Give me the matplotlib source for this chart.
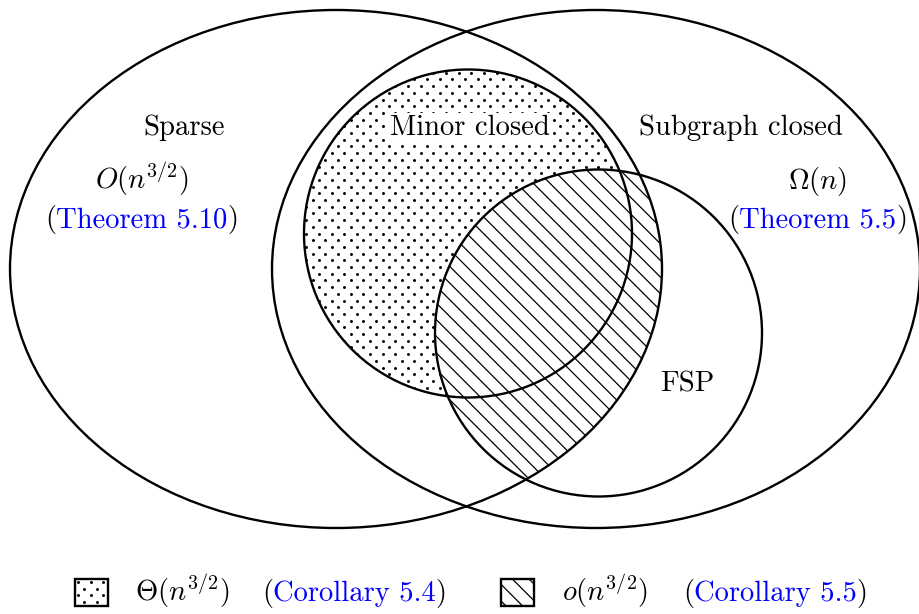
import numpy as np
import matplotlib
matplotlib.use("Agg")
import matplotlib.pyplot as plt
from matplotlib.patches import Ellipse, Circle, Rectangle

plt.rcParams['font.family'] = 'cmr10'
plt.rcParams['mathtext.fontset'] = 'cm'
plt.rcParams['axes.unicode_minus'] = False
plt.rcParams['hatch.linewidth'] = 0.9

# sets: (label, centre x, centre y, width, height) in pixel units
set_names = ["Sparse", "Subgraph closed", "Minor closed", "FSP"]
set_cx = [336, 596, 468, 598.5]
set_cy = [269, 269, 233.5, 333]
set_w = [652, 648, 328, 327]
set_h = [518, 518, 328, 327]

# labels: (pieces, x centre, baseline)
BLUE = '#0000ff'
labels = [
    ([("Sparse", 'k')], 184, 135),
    ([("$O(n^{3/2})$", 'k')], 142, 189),
    ([("(", 'k'), ("Theorem 5.10", BLUE), (")", 'k')], 142, 227),
    ([("Subgraph closed", 'k')], 741, 135),
    ([("$\\Omega(n)$", 'k')], 818, 189),
    ([("(", 'k'), ("Theorem 5.5", BLUE), (")", 'k')], 818, 227),
    ([("FSP", 'k')], 687, 392),
]
legend_math = ["$\\Theta(n^{3/2})$", "$o(n^{3/2})$"]
legend_ref = ["Corollary 5.4", "Corollary 5.5"]
legend_box_x = [75, 501]
legend_math_x = [135, 562]
legend_ref_x = [262, 683]

FS = 20.6
LW = 1.7

fig = plt.figure(figsize=(9.19, 6.14), dpi=100)
ax = fig.add_axes([0, 0, 1, 1])
ax.set_xlim(0, 919)
ax.set_ylim(614, 0)
ax.axis('off')
renderer = fig.canvas.get_renderer()


def shape(i, **kw):
    return Ellipse((set_cx[i], set_cy[i]), set_w[i], set_h[i], **kw)


def dots(clip, x0, x1, y0, y1):
    gx, gy = [], []
    for j, yy in enumerate(np.arange(y0, y1, 6.7)):
        xs = np.arange(x0 + (j % 2) * 6.35, x1, 12.7)
        gx.extend(xs)
        gy.extend([yy] * len(xs))
    sc = ax.scatter(gx, gy, s=4.5, c='k', marker='o', linewidths=0, zorder=2)
    sc.set_clip_path(clip)


# dotted region: minor closed
minor_clip = shape(2, transform=ax.transData)
dots(minor_clip, 300, 640, 66, 402)

# hatched region: FSP inside Sparse
sparse_clip = shape(0, transform=ax.transData)
hatched = shape(3, facecolor='white', edgecolor='k', hatch='\\\\', linewidth=0, zorder=3)
ax.add_patch(hatched)
hatched.set_clip_path(sparse_clip)

# outlines
for i in range(4):
    ax.add_patch(shape(i, fill=False, edgecolor='k', linewidth=LW, zorder=5))

ax.text(470, 135, "Minor closed", fontsize=FS, ha='center', va='baseline', zorder=4,
        bbox=dict(facecolor='white', edgecolor='none', pad=1.5))


def put(pieces, x, y, align='center'):
    ts = [ax.text(0, y, s, color=c, fontsize=FS, ha='left', va='baseline', zorder=6)
          for s, c in pieces]
    ws = [t.get_window_extent(renderer).width for t in ts]
    cur = x - sum(ws) / 2 if align == 'center' else x
    for t, w in zip(ts, ws):
        t.set_x(cur)
        cur += w


for pieces, x, y in labels:
    put(pieces, x, y)

# legend
for k in range(2):
    box = Rectangle((legend_box_x[k], 579), 33, 27, facecolor='white', edgecolor='k',
                    linewidth=LW, zorder=5, hatch='\\\\' if k == 1 else None)
    ax.add_patch(box)
    if k == 0:
        dots(box, legend_box_x[k] + 3, legend_box_x[k] + 33, 582, 606)
        box.set_facecolor('none')
    put([(legend_math[k], 'k')], legend_math_x[k], 601, align='left')
    put([("(", 'k'), (legend_ref[k], BLUE), (")", 'k')], legend_ref_x[k], 601, align='left')

fig.savefig("out.png", dpi=100)
